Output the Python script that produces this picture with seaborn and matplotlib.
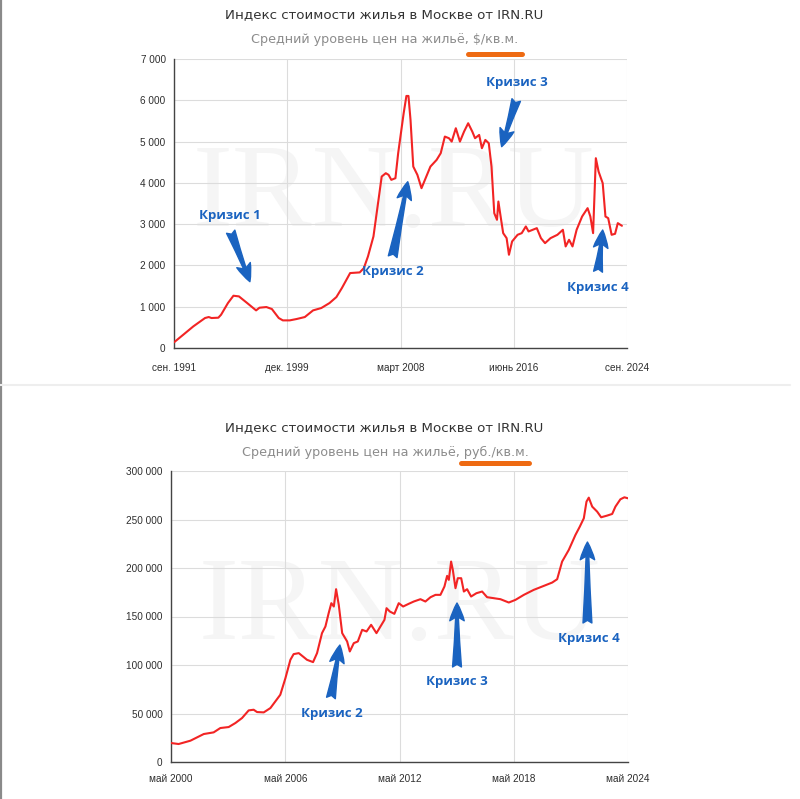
import numpy as np
import pandas as pd
import matplotlib
matplotlib.use("Agg")
import matplotlib.pyplot as plt
import seaborn as sns
from matplotlib.ticker import FixedLocator, MultipleLocator, FuncFormatter
from matplotlib.lines import Line2D

# ---------------- data: USD per sq.m (top) ----------------
usd_year = [1991.67, 1992.35, 1993.08, 1993.93, 1994.2, 1994.4, 1994.9, 1995.1, 1995.6, 1996.0,
            1996.4, 1997.0, 1997.65, 1997.9, 1998.4, 1998.8, 1999.3, 1999.6, 2000.1, 2000.6,
            2001.2, 2001.8, 2002.4, 2003.0, 2003.5, 2003.9, 2004.5, 2005.2, 2005.5, 2005.8,
            2006.2, 2006.5, 2006.8, 2007.1, 2007.3, 2007.5, 2007.8, 2008.0, 2008.4, 2008.6,
            2008.75, 2008.9, 2009.1, 2009.4, 2009.7, 2010.0, 2010.35, 2010.8, 2011.1, 2011.4,
            2011.7, 2011.9, 2012.2, 2012.5, 2012.8, 2013.1, 2013.4, 2013.6, 2013.9, 2014.1,
            2014.35, 2014.6, 2014.8, 2015.0, 2015.2, 2015.3, 2015.5, 2015.65, 2015.9, 2016.07,
            2016.3, 2016.7, 2017.0, 2017.3, 2017.5, 2018.1, 2018.4, 2018.7, 2019.1, 2019.6,
            2020.0, 2020.2, 2020.45, 2020.7, 2021.0, 2021.4, 2021.8, 2022.0, 2022.2, 2022.4,
            2022.6, 2022.9, 2023.1, 2023.3, 2023.55, 2023.8, 2024.0, 2024.3]
usd_value = [137, 323, 524, 726, 750, 726, 734, 806, 1089, 1266,
             1250, 1089, 911, 976, 992, 944, 726, 669, 669, 702,
             750, 911, 968, 1089, 1234, 1452, 1815, 1831, 1935, 2218,
             2702, 3427, 4153, 4234, 4194, 4073, 4113, 4718, 5685, 6105,
             6105, 5524, 4395, 4194, 3871, 4113, 4395, 4556, 4718, 5121,
             5081, 5000, 5323, 5000, 5242, 5444, 5242, 5081, 5161, 4839,
             5040, 4960, 4395, 3266, 3105, 3548, 3105, 2782, 2661, 2258,
             2581, 2742, 2782, 2944, 2823, 2903, 2661, 2540, 2661, 2742,
             2863, 2460, 2621, 2460, 2863, 3185, 3387, 3185, 2782, 4597,
             4274, 3992, 3185, 3145, 2742, 2766, 3024, 2960]

usd_ticks = [1991.67, 1999.92, 2008.17, 2016.42, 2024.67]
usd_tick_labels = ["сен. 1991", "дек. 1999", "март 2008", "июнь 2016", "сен. 2024"]

# ---------------- data: RUB per sq.m (bottom) ----------------
rub_year = [2000.33, 2000.73, 2001.35, 2002.05, 2002.57, 2002.92, 2003.36, 2003.71, 2004.06, 2004.41,
            2004.67, 2004.85, 2005.2, 2005.55, 2005.81, 2006.07, 2006.34, 2006.6, 2006.77, 2007.04,
            2007.3, 2007.47, 2007.79, 2008.0, 2008.26, 2008.44, 2008.61, 2008.75, 2008.88, 2009.0,
            2009.14, 2009.32, 2009.58, 2009.72, 2009.93, 2010.14, 2010.37, 2010.6, 2010.84, 2011.12,
            2011.33, 2011.54, 2011.65, 2011.82, 2012.06, 2012.29, 2012.52, 2012.81, 2013.08, 2013.43,
            2013.69, 2013.96, 2014.22, 2014.48, 2014.69, 2014.83, 2014.92, 2015.04, 2015.13, 2015.27,
            2015.39, 2015.57, 2015.71, 2015.88, 2016.09, 2016.37, 2016.67, 2016.93, 2017.28, 2017.63,
            2018.07, 2018.42, 2018.86, 2019.38, 2019.91, 2020.35, 2020.61, 2020.87, 2021.22, 2021.57,
            2021.8, 2022.01, 2022.15, 2022.27, 2022.45, 2022.71, 2022.92, 2023.23, 2023.5, 2023.67,
            2023.93, 2024.14, 2024.33]
rub_value = [19565, 18535, 21968, 28833, 30549, 35011, 36041, 40160, 45309, 53204,
             53890, 51487, 51144, 55606, 62471, 69336, 86499, 105378, 111213, 112243,
             108124, 105378, 102975, 112243, 132838, 139703, 153433, 163730, 160297, 178146,
             162014, 132838, 124256, 113959, 122540, 124256, 136270, 134554, 141419, 132838,
             139703, 146568, 158581, 155149, 152746, 163730, 160297, 163043, 165446, 167849,
             165446, 169908, 172311, 172311, 180892, 191876, 187757, 206636, 198055, 179176,
             189474, 189474, 175744, 178146, 170595, 174027, 175744, 169908, 168879, 167849,
             164416, 167162, 172311, 177460, 181579, 185011, 188444, 206636, 218650, 234096,
             242677, 251259, 268421, 272540, 263272, 258124, 252288, 254005, 255721, 263272,
             270824, 272883, 271854]

rub_ticks = [2000.33, 2006.33, 2012.33, 2018.33, 2024.33]
rub_tick_labels = ["май 2000", "май 2006", "май 2012", "май 2018", "май 2024"]

title_text = "Индекс стоимости жилья в Москве от IRN.RU"
usd_subtitle = "Средний уровень цен на жильё, $/кв.м."
rub_subtitle = "Средний уровень цен на жильё, руб./кв.м."
watermark = "IRN.RU"

usd_crises = ["Кризис 1", "Кризис 2", "Кризис 3", "Кризис 4"]
rub_crises = ["Кризис 2", "Кризис 3", "Кризис 4"]

# ---------------- style ----------------
sns.set_theme(style="white")
plt.rcParams["font.family"] = ["DejaVu Sans"]

RED = "#f22424"
BLUE = "#1a63c0"
GRID = "#dcdcdc"
AX = "#444444"

W, H = 800, 799
fig = plt.figure(figsize=(W / 100, H / 100), dpi=100)
fig.patch.set_facecolor("white")


def fx(px):
    return px / W


def fy(py):
    return 1 - py / H


ax1 = fig.add_axes([fx(174), fy(348), fx(627) - fx(174), fy(59) - fy(348)])
ax2 = fig.add_axes([fx(171), fy(762), fx(628) - fx(171), fy(471) - fy(762)])

df_usd = pd.DataFrame({"year": usd_year, "value": usd_value})
df_rub = pd.DataFrame({"year": rub_year, "value": rub_value})


def thousands(v, pos):
    return f"{int(round(v)):,}".replace(",", " ")


def style_axes(ax, xlim, ylim, yminor, xmajor, xlabels, xminor, xpad):
    ax.set_xlim(*xlim)
    ax.set_ylim(*ylim)
    for s in ["top", "right"]:
        ax.spines[s].set_visible(False)
    for s in ["left", "bottom"]:
        ax.spines[s].set_color(AX)
        ax.spines[s].set_linewidth(1.0)
    ax.xaxis.set_major_locator(FixedLocator(xmajor))
    ax.xaxis.set_minor_locator(FixedLocator(xminor))
    ax.set_xticklabels(xlabels)
    ax.yaxis.set_minor_locator(MultipleLocator(yminor))
    ax.yaxis.set_major_formatter(FuncFormatter(thousands))
    ax.tick_params(axis="both", which="major", direction="in", length=4, width=0.9,
                   color=AX, labelsize=7.2, labelcolor="#2e2e2e")
    ax.tick_params(axis="both", which="minor", direction="in", length=3, width=0.8, color=AX)
    ax.tick_params(axis="x", which="major", pad=xpad)
    ax.tick_params(axis="y", which="major", pad=6)
    ax.grid(True, which="major", color=GRID, linewidth=0.8)
    ax.set_axisbelow(True)
    ax.set_xlabel("")
    ax.set_ylabel("")
    for lab in ax.get_xticklabels() + ax.get_yticklabels():
        lab.set_fontfamily("Liberation Sans")


# watermarks (clipped to the plot area)
for ax, cx in [(ax1, 0.485), (ax2, 0.50)]:
    t = ax.text(cx, 0.52, watermark, transform=ax.transAxes, ha="center", va="center",
                fontsize=86, family="Liberation Serif", color="#f5f5f5", zorder=0)
    t.set_clip_on(True)

sns.lineplot(data=df_usd, x="year", y="value", ax=ax1, color=RED, linewidth=1.5, zorder=3)
sns.lineplot(data=df_rub, x="year", y="value", ax=ax2, color=RED, linewidth=1.5, zorder=3)

usd_minor = list(np.arange(1991.67, 2024.7, 2.75))
style_axes(ax1, (1991.67, 2024.67), (0, 7000), 500, usd_ticks, usd_tick_labels, usd_minor, 11)
rub_minor = list(np.arange(2000.33, 2024.4, 2.0))
style_axes(ax2, (2000.33, 2024.33), (0, 300000), 10000, rub_ticks, rub_tick_labels, rub_minor, 9)

# titles
for (ty, sy, uy, ux0, ux1, sub) in [(15, 40, 54, 468, 522, usd_subtitle),
                                     (428, 452, 463, 461, 529, rub_subtitle)]:
    fig.text(fx(384), fy(ty), title_text, ha="center", va="center", fontsize=9.6,
             color="#333333")
    fig.text(fx(385), fy(sy), sub, ha="center", va="center", fontsize=9.2,
             color="#8c8c8c")
    fig.add_artist(Line2D([fx(ux0), fx(ux1)], [fy(uy), fy(uy)], transform=fig.transFigure,
                          color="#ee6a12", linewidth=3.6, solid_capstyle="round"))

# left border and separator
fig.add_artist(Line2D([fx(0.8), fx(0.8)], [0, 1], transform=fig.transFigure,
                      color="#8a8a8a", linewidth=1.6))
fig.add_artist(Line2D([0, fx(790)], [fy(385), fy(385)], transform=fig.transFigure,
                      color="#eeeeee", linewidth=1.5))


def crisis(ax, label, text_xy, tail, tip):
    ax.text(text_xy[0], text_xy[1], label, ha="center", va="center", fontsize=9.5,
            fontweight="bold", color=BLUE, family="Open Sans", zorder=5)
    ax.annotate("", xy=tip, xytext=tail,
                arrowprops=dict(arrowstyle="fancy,head_length=0.8,head_width=0.65,tail_width=0.4",
                                color=BLUE, shrinkA=0, shrinkB=0, mutation_scale=16),
                zorder=5)


# top annotations (label, text pos, tail, tip)
crisis(ax1, usd_crises[0], (1995.75, 3221), (1995.8, 2817), (1997.2, 1606))
crisis(ax1, usd_crises[1], (2007.6, 1841), (2007.6, 2211), (2008.7, 4028))
crisis(ax1, usd_crises[2], (2016.66, 6419), (2016.6, 6007), (2015.54, 4876))
crisis(ax1, usd_crises[3], (2022.56, 1477), (2022.56, 1848), (2022.9, 2858))

# bottom annotations
crisis(ax2, rub_crises[0], (2008.8, 50515), (2008.73, 65979), (2009.2, 120619))
crisis(ax2, rub_crises[1], (2015.35, 83505), (2015.35, 97938), (2015.35, 163918))
crisis(ax2, rub_crises[2], (2022.27, 127835), (2022.2, 143299), (2022.2, 226804))

fig.savefig("out.png", dpi=100, facecolor="white")
